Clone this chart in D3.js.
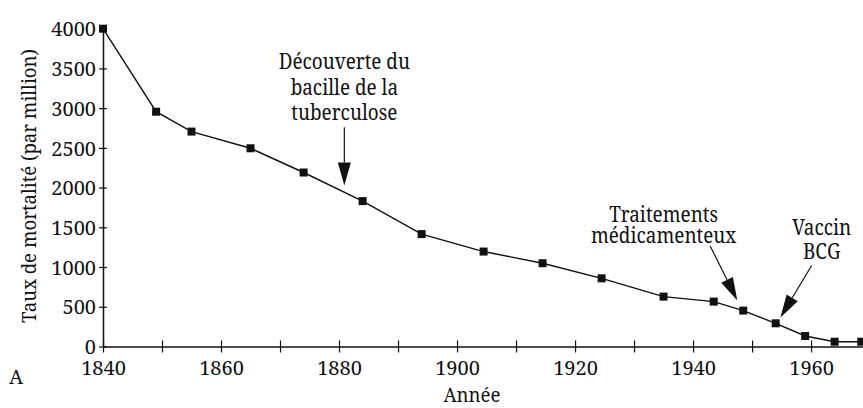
<!DOCTYPE html>
<html>
<head>
<meta charset="utf-8">
<script src="https://cdn.jsdelivr.net/npm/d3@7/dist/d3.min.js"></script>
<style>
  html, body { margin: 0; padding: 0; background: #fff; }
  svg { display: block; }
</style>
</head>
<body>
<svg id="chart" width="863" height="408"></svg>
<script>
// Data
const years = [1840, 1849, 1855, 1865, 1874, 1884, 1894, 1904.5, 1914.5, 1924.5, 1935, 1943.5, 1948.5, 1954, 1959, 1964, 1968.5];
const rates = [4000, 2955, 2705, 2495, 2190, 1830, 1415, 1195, 1048, 858, 628, 565, 452, 292, 132, 60, 60];
const yTicks = [0, 500, 1000, 1500, 2000, 2500, 3000, 3500, 4000];
const xTicks = [1840, 1850, 1860, 1870, 1880, 1890, 1900, 1910, 1920, 1930, 1940, 1950, 1960];
const xLabelYears = [1840, 1860, 1880, 1900, 1920, 1940, 1960];
const annotations = [
  { lines: ["Découverte du", "bacille de la", "tuberculose"], year: 1880.9, value: 2025, fromValue: 2760, textYear: 1880.9, textValue: 3490, lineGap: 25.5 },
  { lines: ["Traitements", "médicamenteux"], year: 1947.5, value: 580, fromValue: 1265, fromYear: 1942.9, textYear: 1935, textValue: 1570, lineGap: 21.5 },
  { lines: ["Vaccin", "BCG"], year: 1954.8, value: 365, fromValue: 1020, fromYear: 1960.1, textYear: 1961.8, textValue: 1400, lineGap: 23.5 }
];

const FONT = "Noto Serif";
const INK = "#111";
const svg = d3.select("#chart");
const x = d3.scaleLinear().domain([1840, 1968.8]).range([103, 863]);
const y = d3.scaleLinear().domain([0, 4000]).range([346.5, 28.7]);

// Y axis
const yAxis = svg.append("g").attr("transform", `translate(${x(1840)},0)`)
  .call(d3.axisLeft(y).tickValues(yTicks).tickFormat(d3.format("d")).tickSize(4).tickSizeOuter(0).tickPadding(3));
yAxis.attr("font-family", FONT).attr("font-size", 20);
yAxis.select(".domain").attr("stroke", INK).attr("stroke-width", 1.5);
yAxis.selectAll(".tick line").attr("x1", 4).attr("stroke", INK).attr("stroke-width", 1.2);
yAxis.selectAll(".tick text").attr("fill", INK).attr("dy", "0.36em");

// X axis
const xAxis = svg.append("g").attr("transform", `translate(0,${y(0)})`)
  .call(d3.axisBottom(x).tickValues(xTicks).tickSize(6).tickSizeOuter(0).tickPadding(8)
    .tickFormat(d => xLabelYears.includes(d) ? String(d) : ""));
xAxis.attr("font-family", FONT).attr("font-size", 20);
xAxis.select(".domain").attr("stroke", INK).attr("stroke-width", 1.5);
xAxis.selectAll(".tick line").attr("y1", -6).attr("stroke", INK).attr("stroke-width", 1.2);
xAxis.selectAll(".tick text").attr("fill", INK);

// Line
const line = d3.line().x((d, i) => x(years[i])).y(d => y(d));
svg.append("path").datum(rates).attr("d", line)
  .attr("fill", "none").attr("stroke", INK).attr("stroke-width", 1.4);

// Markers
svg.append("g").selectAll("rect").data(rates).join("rect")
  .attr("x", (d, i) => x(years[i]) - 4).attr("y", d => y(d) - 4)
  .attr("width", 8).attr("height", 8).attr("fill", INK);

// Annotations with arrows
const ann = svg.append("g");
annotations.forEach(a => {
  const fy = a.fromYear !== undefined ? a.fromYear : a.year;
  const x1 = x(fy), y1 = y(a.fromValue), x2 = x(a.year), y2 = y(a.value);
  const ang = Math.atan2(y2 - y1, x2 - x1);
  const L = 23, W = 6.5;
  const bx = x2 - L * Math.cos(ang), by = y2 - L * Math.sin(ang);
  ann.append("line").attr("x1", x1).attr("y1", y1).attr("x2", bx).attr("y2", by)
    .attr("stroke", INK).attr("stroke-width", 1.2);
  const px = -Math.sin(ang), py = Math.cos(ang);
  ann.append("path")
    .attr("d", `M${x2},${y2}L${bx + W * px},${by + W * py}L${bx - W * px},${by - W * py}Z`)
    .attr("fill", INK);
  const g = ann.append("g").attr("transform", `translate(${x(a.textYear)},${y(a.textValue)}) scale(0.9,1)`);
  const t = g.append("text").attr("text-anchor", "middle").attr("font-size", 21)
    .attr("font-family", FONT).attr("fill", INK);
  a.lines.forEach((s, i) => {
    t.append("tspan").attr("x", 0).attr("y", i * a.lineGap).text(s);
  });
});

// Axis titles
const titles = svg.append("g").attr("font-size", 20).attr("font-family", FONT).attr("fill", INK);
titles.append("text").attr("transform", `translate(36,186) rotate(-90) scale(0.93,1)`)
  .attr("text-anchor", "middle").text("Taux de mortalité (par million)");
titles.append("text").attr("transform", "translate(472,402) scale(0.93,1)").attr("text-anchor", "middle").text("Année");
titles.append("text").attr("x", 9).attr("y", 384).text("A");
</script>
</body>
</html>
